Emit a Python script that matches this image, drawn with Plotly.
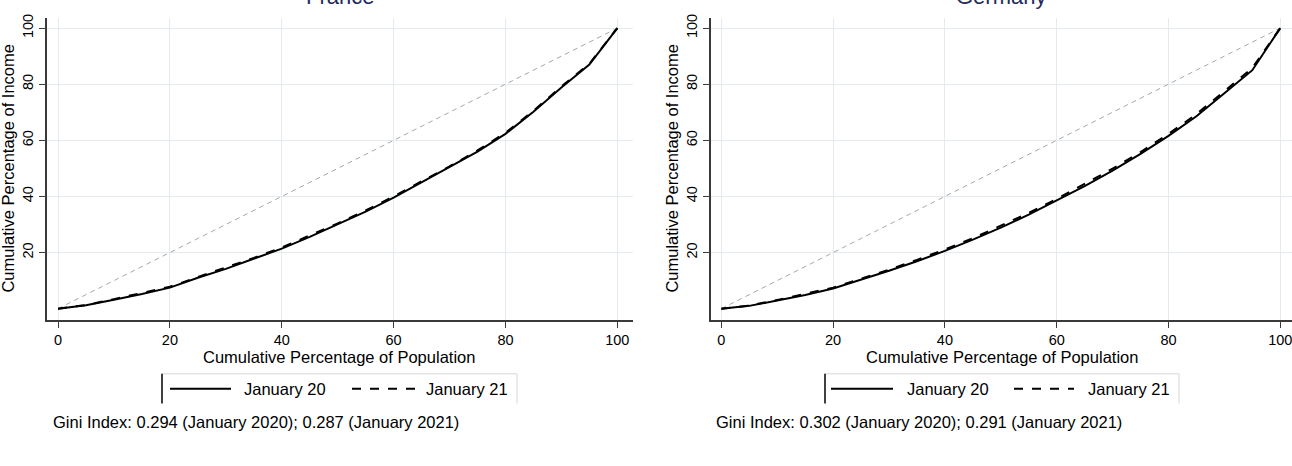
import plotly.graph_objects as go

W, H = 1292, 466

# ---------------- data ----------------
pop_pct = [0, 5, 10, 15, 20, 25, 30, 35, 40, 45, 50, 55, 60, 65, 70, 75, 80, 85, 90, 95, 100]
france_jan20 = [0, 1.2, 3.2, 5.2, 7.5, 11.0, 14.2, 17.7, 21.4, 25.6, 30.0, 34.6, 39.6, 45.0, 50.3, 56.0, 62.3, 70.2, 78.8, 87.0, 100]
france_jan21 = [0, 1.3, 3.4, 5.5, 7.8, 11.3, 14.6, 18.1, 21.8, 26.0, 30.4, 35.0, 40.0, 45.4, 50.7, 56.4, 62.7, 70.5, 79.2, 87.3, 100]
germany_jan20 = [0, 1.0, 2.9, 4.9, 7.2, 10.3, 13.5, 16.9, 20.6, 24.6, 28.9, 33.5, 38.5, 43.7, 49.2, 55.2, 61.6, 68.6, 76.8, 85.0, 100]
germany_jan21 = [0, 1.1, 3.1, 5.2, 7.5, 10.7, 13.9, 17.4, 21.1, 25.1, 29.5, 34.1, 39.1, 44.4, 49.9, 55.8, 62.3, 69.3, 77.5, 85.8, 100]
equality = [0, 100]

panel_titles = ["France", "Germany"]
series_names = ["January 20", "January 21"]
gini_notes = ["Gini Index: 0.294 (January 2020); 0.287 (January 2021)",
              "Gini Index: 0.302 (January 2020); 0.291 (January 2021)"]
x_title = "Cumulative Percentage of Population"
y_title = "Cumulative Percentage of Income"
x_ticks = [0, 20, 40, 60, 80, 100]
y_ticks = [20, 40, 60, 80, 100]

FONT = "Liberation Sans, Arial, sans-serif"
GRID = "#e4eaee"
AXIS = "#3a3a3a"


def px(x):
    return x / W


def py(y):
    return 1 - y / H


fig = go.Figure()

panels = [
    dict(xa="x", ya="y", xr=[-1.97, 102.8], jan20=france_jan20, jan21=france_jan21),
    dict(xa="x2", ya="y2", xr=[-1.9, 102.1], jan20=germany_jan20, jan21=germany_jan21),
]

for p in panels:
    fig.add_trace(go.Scatter(x=equality, y=equality, mode="lines", xaxis=p["xa"], yaxis=p["ya"],
                             line=dict(color="#a8a8a8", width=1, dash="5px,4px"), showlegend=False,
                             hoverinfo="skip"))
    fig.add_trace(go.Scatter(x=pop_pct, y=p["jan20"], mode="lines", xaxis=p["xa"], yaxis=p["ya"],
                             name=series_names[0], line=dict(color="black", width=2), showlegend=False))
    fig.add_trace(go.Scatter(x=pop_pct, y=p["jan21"], mode="lines", xaxis=p["xa"], yaxis=p["ya"],
                             name=series_names[1], line=dict(color="black", width=2, dash="dash"),
                             showlegend=False))

y_dom = [py(319), py(14)]
y_range = [-4.13, 103.64]

common_x = dict(tickmode="array", tickvals=x_ticks, ticks="outside", ticklen=6, tickwidth=1.2,
                tickcolor=AXIS, showline=True, linecolor=AXIS, linewidth=1.5, showgrid=True,
                gridcolor=GRID, gridwidth=1, zeroline=False, ticklabeloverflow="allow",
                tickfont=dict(family=FONT, size=14.5, color="black"), fixedrange=True)
common_y = dict(tickmode="array", tickvals=y_ticks, ticks="outside", ticklen=6, tickwidth=1.2,
                tickcolor=AXIS, showline=True, linecolor=AXIS, linewidth=1.5, showgrid=True,
                gridcolor=GRID, gridwidth=1, zeroline=False, tickangle=-90, range=y_range,
                ticklabeloverflow="allow",
                tickfont=dict(family=FONT, size=14.5, color="black"), domain=y_dom, fixedrange=True)

fig.update_layout(
    width=W, height=H, margin=dict(l=0, r=0, t=0, b=0),
    paper_bgcolor="white", plot_bgcolor="white", showlegend=False,
    xaxis=dict(common_x, domain=[px(47), px(633)], range=panels[0]["xr"], anchor="y"),
    yaxis=dict(common_y, anchor="x"),
    xaxis2=dict(common_x, domain=[px(710.7), 1.0], range=panels[1]["xr"], anchor="y2"),
    yaxis2=dict(common_y, anchor="x2"),
)

annotations = []
shapes = []

layout_px = [
    dict(title_x=340, xt_x=339, yt_x=8, box=(162, 517), s1=(170, 231), t1=242, s2=(352, 415), t2=424, gini_x=51),
    dict(title_x=1001, xt_x=1002, yt_x=672, box=(825, 1179), s1=(831, 893), t1=905, s2=(1014, 1074), t2=1086, gini_x=714),
]

for i, L in enumerate(layout_px):
    annotations.append(dict(text=panel_titles[i], x=px(L["title_x"]), y=py(7), xref="paper", yref="paper",
                            xanchor="center", yanchor="bottom", showarrow=False,
                            font=dict(family=FONT, size=22, color="#1f2b5c")))
    annotations.append(dict(text=x_title, x=px(L["xt_x"]), y=py(356), xref="paper", yref="paper",
                            xanchor="center", yanchor="middle", showarrow=False,
                            font=dict(family=FONT, size=16.5, color="black")))
    annotations.append(dict(text=y_title, x=px(L["yt_x"]), y=py(166), xref="paper", yref="paper",
                            xanchor="center", yanchor="middle", showarrow=False, textangle=-90,
                            font=dict(family=FONT, size=16.5, color="black")))
    # legend box
    b0, b1 = L["box"]
    shapes.append(dict(type="line", xref="paper", yref="paper", x0=px(b0), x1=px(b1), y0=py(373), y1=py(373),
                       line=dict(color="#d6d6d6", width=1)))
    shapes.append(dict(type="line", xref="paper", yref="paper", x0=px(b1), x1=px(b1), y0=py(373), y1=py(403),
                       line=dict(color="#d6d6d6", width=1)))
    shapes.append(dict(type="line", xref="paper", yref="paper", x0=px(b0), x1=px(b0), y0=py(373), y1=py(403),
                       line=dict(color="black", width=1.5)))
    shapes.append(dict(type="line", xref="paper", yref="paper", x0=px(L["s1"][0]), x1=px(L["s1"][1]),
                       y0=py(388), y1=py(388), line=dict(color="black", width=2)))
    shapes.append(dict(type="line", xref="paper", yref="paper", x0=px(L["s2"][0]), x1=px(L["s2"][1]),
                       y0=py(388), y1=py(388), line=dict(color="black", width=2, dash="dash")))
    annotations.append(dict(text=series_names[0], x=px(L["t1"]), y=py(388), xref="paper", yref="paper",
                            xanchor="left", yanchor="middle", showarrow=False,
                            font=dict(family=FONT, size=16.5, color="black")))
    annotations.append(dict(text=series_names[1], x=px(L["t2"]), y=py(388), xref="paper", yref="paper",
                            xanchor="left", yanchor="middle", showarrow=False,
                            font=dict(family=FONT, size=16.5, color="black")))
    annotations.append(dict(text=gini_notes[i], x=px(L["gini_x"]), y=py(422), xref="paper", yref="paper",
                            xanchor="left", yanchor="middle", showarrow=False,
                            font=dict(family=FONT, size=16.5, color="black")))

fig.update_layout(annotations=annotations, shapes=shapes)
fig.write_html("out.html", config={"displayModeBar": False},
               post_script="document.body.style.margin='0';document.body.style.overflow='hidden';")
